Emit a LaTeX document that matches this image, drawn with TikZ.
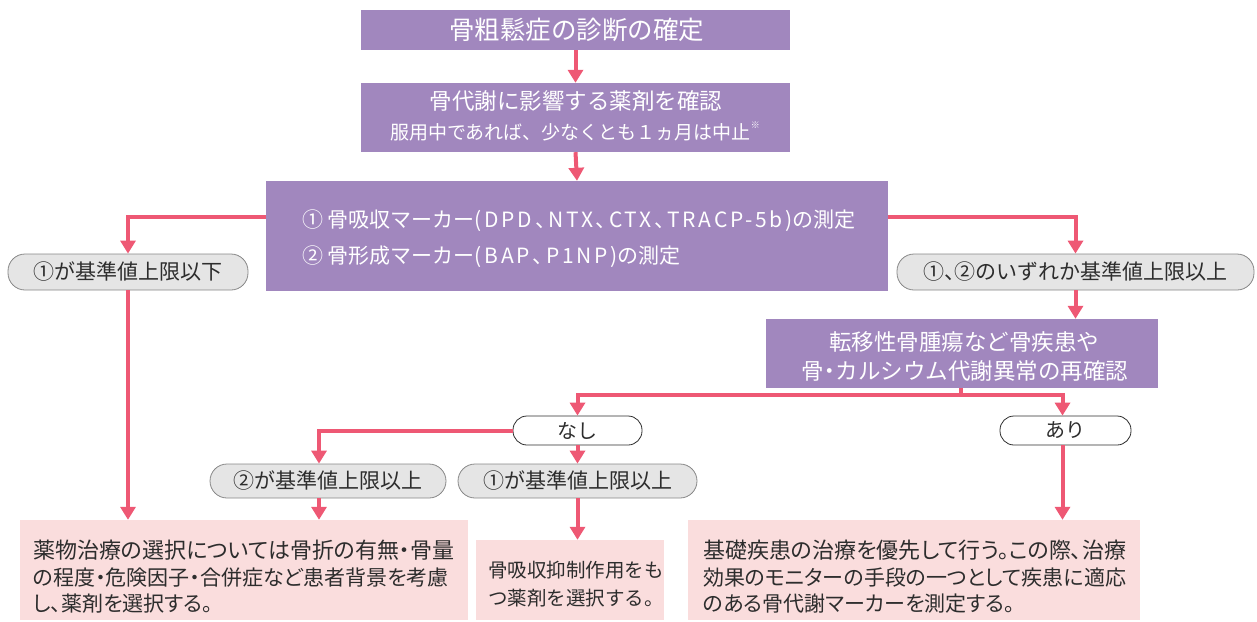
\documentclass[tikz,border=0pt]{standalone}
\usepackage{fontspec}
\setmainfont{Noto Sans CJK JP}
\newfontfamily\jph[RawFeature=+halt]{Noto Sans CJK JP}
\newfontfamily\jpp[RawFeature=+palt]{Noto Sans CJK JP}
\newfontfamily\jpls[LetterSpace=13,RawFeature=+halt]{Noto Sans CJK JP}
\usetikzlibrary{arrows.meta,calc}
\definecolor{purp}{RGB}{161,135,190}
\definecolor{arrc}{RGB}{238,88,116}
\definecolor{pinkbox}{RGB}{250,221,221}
\definecolor{pillfill}{RGB}{229,229,229}
\definecolor{pilldraw}{RGB}{135,135,135}
\definecolor{txt}{RGB}{45,45,45}
\tikzset{
  pbox/.style={fill=purp, draw=none, text=white, inner sep=0pt, align=center},
  wtext/.style={text=white, inner sep=0pt},
  dtext/.style={text=txt, inner sep=0pt, anchor=base west},
  resA/.style={dtext, font=\jpp\fontsize{22}{24}\selectfont},
  resB/.style={dtext, font=\jpp\fontsize{21}{24}\selectfont},
  graypill/.style={fill=pillfill, draw=pilldraw, line width=0.8pt, rounded corners=17pt, text=txt, inner sep=0pt, font=\jph\fontsize{21}{24}\selectfont},
  whitepill/.style={fill=white, draw=txt, line width=0.8pt, rounded corners=14pt, text=txt, inner sep=0pt, font=\fontsize{20}{24}\selectfont},
  resbox/.style={fill=pinkbox, draw=none, inner sep=0pt},
  arr/.style={draw=arrc, line width=4pt, -{Triangle[width=15pt,length=13pt]}},
  ln/.style={draw=arrc, line width=4pt},
}
\begin{document}
\begin{tikzpicture}[x=1pt,y=-1pt]
\useasboundingbox (0,0) rectangle (1257,621);
% boxes
\node[pbox, minimum width=429pt, minimum height=40pt] (b1) at (575.5,30) {};
\node[wtext, anchor=base, font=\fontsize{25.5}{28}\selectfont] (b1t) at (576.5,39.5) {骨粗鬆症の診断の確定};
\node[pbox, minimum width=429pt, minimum height=69pt] (b2) at (575.5,117.5) {};
\node[wtext, anchor=base, font=\fontsize{22.5}{26}\selectfont] (b2a) at (576,109.5) {骨代謝に影響する薬剤を確認};
\node[wtext, anchor=base, font=\fontsize{19}{22}\selectfont] (b2b) at (575,139) {服用中であれば、少なくとも１ヵ月は中止\raisebox{0.55em}{\fontsize{9}{9}\selectfont ※}};
\node[pbox, minimum width=622pt, minimum height=110pt] (b3) at (577,236) {};
\node[wtext, anchor=base west, font=\jph\fontsize{21}{24}\selectfont] (b3a) at (302,227) {① 骨吸収マーカー{\jpls(DPD、NTX、CTX、TRACP-5b)}の測定};
\node[wtext, anchor=base west, font=\jph\fontsize{21}{24}\selectfont] (b3b) at (302,263) {② 骨形成マーカー{\jpls(BAP、P1NP)}の測定};
\node[graypill, minimum width=240pt, minimum height=36pt] (lp) at (128,272) {①が基準値上限以下};
\node[graypill, minimum width=357pt, minimum height=36pt] (rp) at (1075.5,272) {①、②のいずれか基準値上限以上};
\node[pbox, minimum width=392pt, minimum height=69pt] (b4) at (962,353.5) {};
\node[wtext, anchor=base, font=\jph\fontsize{22.5}{24}\selectfont] (b4a) at (964,350) {転移性骨腫瘍など骨疾患や};
\node[wtext, anchor=base, font=\jph\fontsize{22.5}{24}\selectfont] (b4b) at (965,379) {骨・カルシウム代謝異常の再確認};
\node[whitepill, minimum width=129pt, minimum height=29pt] (nashi) at (577.5,430.5) {なし};
\node[whitepill, minimum width=131pt, minimum height=29pt] (ari) at (1065.5,430.5) {あり};
\node[graypill, minimum width=236pt, minimum height=34pt] (p2) at (328,481) {②が基準値上限以上};
\node[graypill, minimum width=239pt, minimum height=34pt] (p1) at (577.5,481) {①が基準値上限以上};
\node[resbox, minimum width=448pt, minimum height=100pt] (bl) at (244,570) {};
\node[resA] (bl1) at (33,558) {薬物治療の選択については骨折の有無・骨量};
\node[resB] (bl2) at (33,585) {の程度・危険因子・合併症など患者背景を考慮};
\node[resB] (bl3) at (33,611) {し、薬剤を選択する。};
\node[resbox, minimum width=188pt, minimum height=80pt] (mid) at (570,580) {};
\node[dtext, font=\jph\fontsize{19.5}{24}\selectfont] (mid1) at (488,577) {骨吸収抑制作用をも};
\node[dtext, font=\jph\fontsize{19.5}{24}\selectfont] (mid2) at (488,605) {つ薬剤を選択する。};
\node[resbox, minimum width=452pt, minimum height=100pt] (br) at (914,570) {};
\node[resA] (br1) at (703,558) {基礎疾患の治療を優先して行う。この際、治療};
\node[resB] (br2) at (703,585) {効果のモニターの手段の一つとして疾患に適応};
\node[resB] (br3) at (703,611) {のある骨代謝マーカーを測定する。};
% connectors
\draw[arr] (b1.south) -- (b2.north);
\draw[arr] (b2.south) -- (b3.north);
\draw[arr] (b3.west |- 0,217) -| (lp.north);
\draw[arr] (b3.east |- 0,217) -| (rp.north);
\draw[arr] (rp.south) -- (rp.south |- b4.north);
\coordinate (fork) at (961,395);
\draw[ln] (b4.south -| fork) -- (fork);
\draw[arr] (fork) -| (nashi.north);
\draw[arr] (fork) -| ([xshift=-3pt]ari.north);
\draw[arr] (nashi.west) -| ([xshift=-9pt]p2.north);
\draw[arr] (nashi.south) -- (p1.north);
\draw[arr] ([xshift=-9pt]p2.south) -- ([xshift=-9pt]p2.south |- bl.north);
\draw[arr] (lp.south) -- (lp.south |- bl.north);
\draw[arr] (p1.south) -- (p1.south |- mid.north);
\draw[arr] ([xshift=-3pt]ari.south) -- ([xshift=-3pt]ari.south |- br.north);
\end{tikzpicture}
\end{document}
